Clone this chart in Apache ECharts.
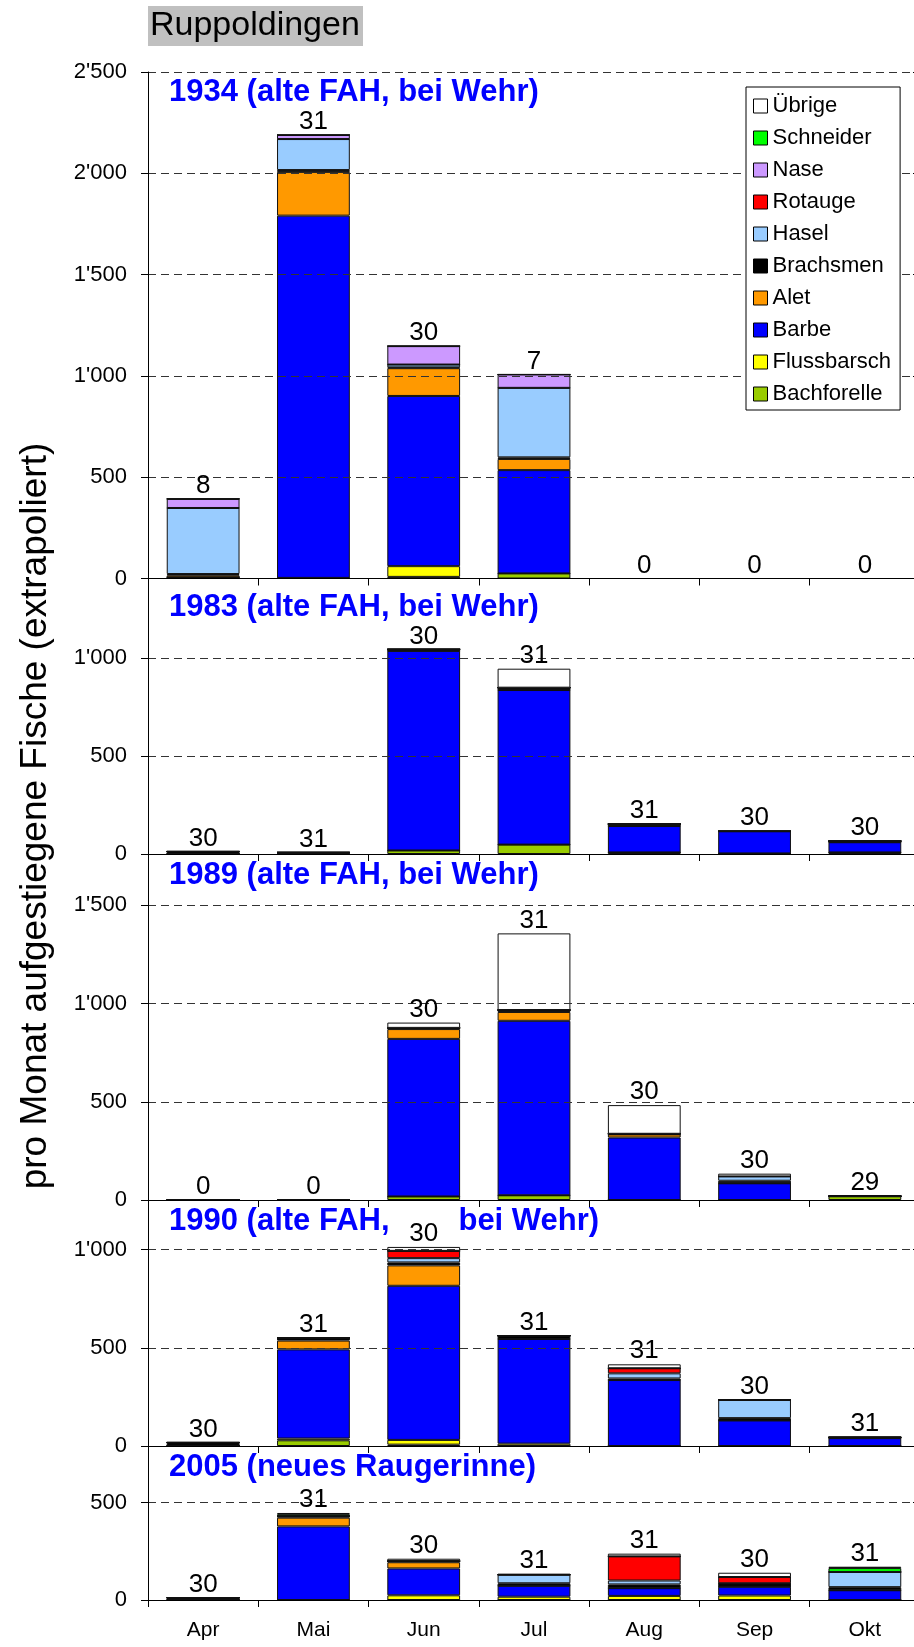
<!DOCTYPE html>
<html>
<head>
<meta charset="utf-8">
<script src="https://cdn.jsdelivr.net/npm/echarts@6/dist/echarts.min.js"></script>
<style>
html,body{margin:0;padding:0;overflow:hidden;background:#fff;}
#c{width:922px;height:1647px;}
</style>
</head>
<body>
<div id="c"></div>
<script>
// ---------- DATA ----------
const months = ['Apr', 'Mai', 'Jun', 'Jul', 'Aug', 'Sep', 'Okt'];
// stacking order, bottom -> top
const species = ['Bachforelle', 'Flussbarsch', 'Barbe', 'Alet', 'Brachsmen', 'Hasel', 'Rotauge', 'Nase', 'Schneider', 'Übrige'];
const speciesColors = ['#99CC00', '#FFFF00', '#0000FF', '#FF9900', '#000000', '#99CCFF', '#FF0000', '#CC99FF', '#00FF00', '#FFFFFF'];

const chartTitle = 'Ruppoldingen';
const yAxisTitle = 'pro Monat aufgestiegene Fische (extrapoliert)';
const panelTitles = [
  '1934 (alte FAH, bei Wehr)',
  '1983 (alte FAH, bei Wehr)',
  '1989 (alte FAH, bei Wehr)',
  '1990 (alte FAH,        bei Wehr)',
  '2005 (neues Raugerinne)'
];

// rows follow `species` order; columns follow `months`
const fish1934 = [
  [6, 3, 8, 25, 0, 0, 0],        // Bachforelle
  [0, 0, 53, 0, 0, 0, 0],        // Flussbarsch
  [0, 1788, 840, 510, 0, 0, 0],  // Barbe
  [10, 216, 137, 55, 0, 0, 0],   // Alet
  [6, 9, 4, 8, 0, 0, 0],         // Brachsmen
  [326, 153, 14, 343, 0, 0, 0],  // Hasel
  [0, 0, 0, 0, 0, 0, 0],         // Rotauge
  [45, 20, 91, 66, 0, 0, 0],     // Nase
  [0, 0, 0, 0, 0, 0, 0],         // Schneider
  [0, 0, 0, 0, 0, 0, 0]          // Übrige
];
const days1934 = [8, 31, 30, 7, 0, 0, 0];

const fish1983 = [
  [0, 0, 18, 48, 8, 3, 8],
  [0, 0, 0, 0, 0, 0, 0],
  [0, 8, 1020, 790, 135, 113, 52],
  [0, 0, 0, 0, 0, 0, 0],
  [13, 0, 8, 12, 10, 0, 6],
  [0, 0, 0, 0, 0, 0, 0],
  [0, 0, 0, 0, 0, 0, 0],
  [0, 0, 0, 0, 0, 0, 0],
  [0, 0, 0, 0, 0, 0, 0],
  [0, 0, 0, 97, 0, 0, 0]
];
const days1983 = [30, 31, 30, 31, 31, 30, 30];

const fish1989 = [
  [0, 0, 18, 24, 0, 0, 19],
  [0, 0, 0, 0, 0, 0, 0],
  [0, 0, 802, 888, 318, 85, 0],
  [0, 0, 50, 45, 16, 0, 0],
  [0, 0, 6, 10, 3, 13, 0],
  [0, 0, 0, 0, 0, 22, 0],
  [0, 0, 0, 0, 0, 0, 0],
  [0, 0, 0, 0, 0, 0, 0],
  [0, 0, 0, 0, 0, 0, 0],
  [0, 0, 27, 390, 146, 14, 0]
];
const days1989 = [0, 0, 30, 31, 30, 30, 29];

const fish1990 = [
  [2, 29, 7, 0, 0, 0, 0],
  [0, 9, 24, 12, 0, 0, 0],
  [0, 454, 785, 533, 336, 130, 40],
  [0, 45, 104, 0, 0, 0, 0],
  [16, 13, 15, 17, 8, 12, 4],
  [0, 0, 22, 0, 26, 93, 0],
  [0, 0, 37, 0, 26, 0, 0],
  [0, 0, 0, 0, 0, 0, 0],
  [0, 0, 0, 0, 0, 0, 0],
  [0, 0, 20, 0, 20, 0, 3]
];
const days1990 = [30, 31, 30, 31, 31, 30, 31];

const fish2005 = [
  [0, 0, 0, 0, 0, 0, 0],
  [0, 0, 24, 17, 21, 23, 0],
  [0, 378, 138, 56, 40, 45, 50],
  [0, 45, 32, 0, 0, 0, 0],
  [12, 8, 6, 13, 19, 18, 16],
  [0, 0, 0, 44, 20, 0, 78],
  [0, 0, 0, 0, 124, 32, 0],
  [0, 0, 0, 0, 0, 0, 0],
  [0, 10, 0, 0, 0, 0, 20],
  [0, 6, 12, 4, 14, 22, 7]
];
const days2005 = [30, 31, 30, 31, 31, 30, 31];

const labelBase = [0, 0, 0, 0, 0, 0, 0];

// ---------- LAYOUT ----------
const FONT = 'Liberation Sans, Arial, sans-serif';
const panelData = [fish1934, fish1983, fish1989, fish1990, fish2005];
const panelDays = [days1934, days1983, days1989, days1990, days2005];
const gridTops = [72, 578.5, 854, 1200, 1446];
const gridHeights = [506.5, 275.5, 346, 246, 154];
const yMax = [2500, 1408, 1761, 1253, 791];
const titleY = [93, 608, 876, 1222, 1467.5];
const GRID_LEFT = 148;

function fmtY(v) {
  if (v % 500 !== 0) return '';
  if (v >= 1000) return Math.floor(v / 1000) + "'" + String(v % 1000).padStart(3, '0');
  return String(v);
}

const grids = [], xAxes = [], yAxes = [], series = [], graphics = [];
for (let i = 0; i < 5; i++) {
  grids.push({ left: GRID_LEFT, right: 2, top: gridTops[i], height: gridHeights[i], containLabel: false });
  xAxes.push({
    type: 'category', gridIndex: i, data: months,
    axisLine: { show: true, lineStyle: { color: '#000', width: 1 } },
    axisTick: { show: true, length: 7, lineStyle: { color: '#000' } },
    axisLabel: { show: i === 4, fontSize: 21, fontFamily: FONT, color: '#000', margin: 20 },
    splitLine: { show: false }, z: 5
  });
  // main y axis
  yAxes.push({
    type: 'value', gridIndex: i, min: 0, max: yMax[i], interval: 500,
    axisLine: { show: true, lineStyle: { color: '#000', width: 1 } },
    axisTick: { show: true, length: 7, lineStyle: { color: '#000' } },
    axisLabel: { show: true, fontSize: 22, fontFamily: FONT, color: '#000', margin: 21,
                 formatter: fmtY, showMaxLabel: i === 0, showMinLabel: true },
    splitLine: { show: true, showMinLine: false, showMaxLine: i === 0,
                 lineStyle: { color: '#333', width: 1, type: [8, 5] } },
    z: 5
  });
}
// inner tick axes (crossing ticks)
for (let i = 0; i < 5; i++) {
  yAxes.push({
    type: 'value', gridIndex: i, min: 0, max: yMax[i], interval: 500,
    axisLine: { show: false },
    axisTick: { show: true, inside: true, length: 7, lineStyle: { color: '#000' } },
    axisLabel: { show: false }, splitLine: { show: false }
  });
}

for (let i = 0; i < 5; i++) {
  const d = panelData[i];
  for (let k = 0; k < species.length; k++) {
    series.push({
      type: 'bar', name: species[k], xAxisIndex: i, yAxisIndex: i, stack: 'p' + i,
      barWidth: '66%', data: d[k], silent: true,
      itemStyle: { color: speciesColors[k], borderColor: '#111', borderWidth: 1 },
      emphasis: { disabled: true }
    });
  }
  const days = panelDays[i];
  series.push({
    type: 'bar', name: 'Tage', xAxisIndex: i, yAxisIndex: i, stack: 'p' + i,
    barWidth: '66%', data: labelBase, silent: true,
    itemStyle: { color: 'rgba(0,0,0,0)', borderWidth: 0 },
    label: { show: true, position: 'top', distance: 0, fontSize: 26, fontFamily: FONT, color: '#000',
             formatter: p => String(days[p.dataIndex]) },
    z: 10
  });
  graphics.push({
    type: 'text', left: 169 - 0, top: titleY[i] - 16, z: 100,
    style: { text: panelTitles[i], fontSize: 31, fontWeight: 'bold', fontFamily: FONT, fill: '#0000FF' }
  });
}

graphics.push({ type: 'rect', shape: { x: 148, y: 6, width: 215, height: 40 }, style: { fill: '#C0C0C0' }, z: 50 });
graphics.push({ type: 'text', x: 150, y: 26, z: 60,
  style: { text: chartTitle, fontSize: 34, fontFamily: FONT, fill: '#000', align: 'left', verticalAlign: 'middle' } });
graphics.push({ type: 'text', x: 36, y: 816, rotation: Math.PI / 2, z: 60,
  style: { text: yAxisTitle, fontSize: 37, fontFamily: FONT, fill: '#000', align: 'center', verticalAlign: 'middle' } });

const chart = echarts.init(document.getElementById('c'), null, { renderer: 'canvas' });
chart.setOption({
  animation: false,
  backgroundColor: '#fff',
  grid: grids,
  xAxis: xAxes,
  yAxis: yAxes,
  legend: {
    data: species.slice().reverse(),
    orient: 'vertical', left: 746, top: 87,
    itemWidth: 14, itemHeight: 14, itemGap: 10, icon: 'rect',
    padding: [8, 9, 5, 7],
    backgroundColor: '#fff', borderColor: '#000', borderWidth: 1,
    itemStyle: { borderColor: '#000', borderWidth: 1 },
    textStyle: { fontSize: 22, fontFamily: FONT, color: '#000' },
    selectedMode: false, z: 20
  },
  series: series,
  graphic: graphics
});
</script>
</body>
</html>
